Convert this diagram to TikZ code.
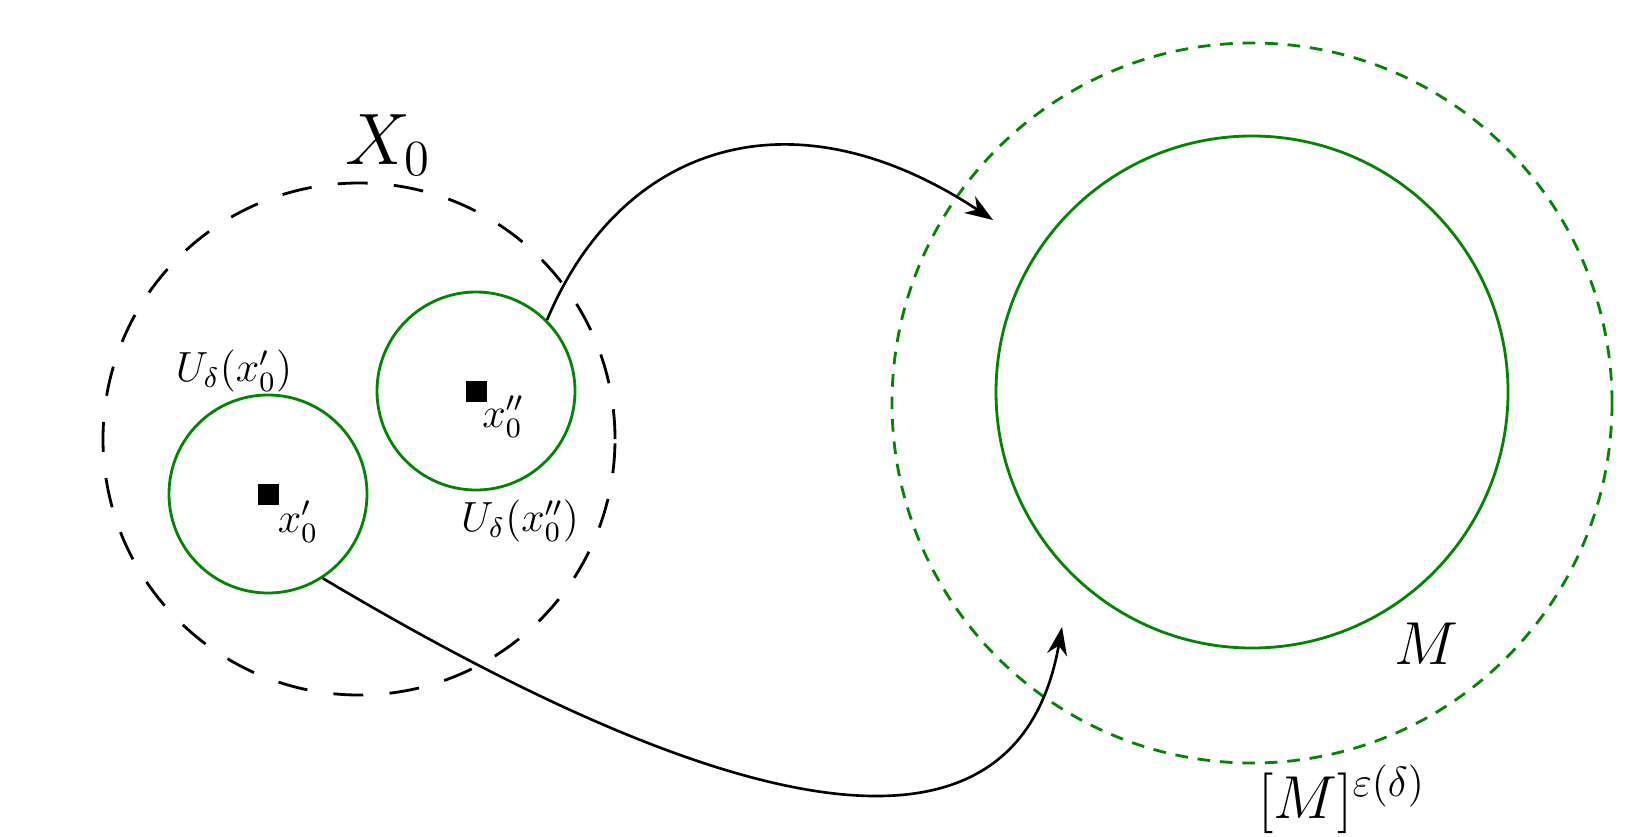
\documentclass[tikz,border=0pt]{standalone}
\usepackage{amsmath,amssymb}
\usetikzlibrary{positioning, arrows.meta, shapes.geometric}
\definecolor{nbhdgreen}{RGB}{0,135,0}
\tikzset{
  setcirc/.style   = {draw, circle, inner sep=0pt, line width=0.8pt,
                      dash pattern=on 8.5pt off 7.5pt},
  nbhd/.style      = {draw=nbhdgreen, circle, inner sep=0pt, line width=0.8pt},
  nbhdouter/.style = {nbhd, dash pattern=on 3.6pt off 2.8pt},
  ptmark/.style    = {fill=black, inner sep=0pt, minimum size=2.1mm},
  maparrow/.style  = {line width=0.75pt,
                      -{Stealth[length=2.8mm,width=2mm,inset=0.9mm]}},
  setlbl/.style    = {font=\large, inner sep=1pt}
}

\begin{document}
\begin{tikzpicture}
  \useasboundingbox (0,0) rectangle (16.52,8.36);

  % the set X_0 with two neighbourhoods
  \node[setcirc, minimum size=51.2mm] (xset) at (3.59,3.97) {};
  \node[nbhd, minimum size=19.8mm]    (ua)   at (2.68,3.42) {};
  \node[nbhd, minimum size=19.8mm]    (ub)   at (4.76,4.45) {};
  \node[ptmark] (pa) at (ua.center) {};
  \node[ptmark] (pb) at (ub.center) {};

  \node[setlbl] (lpa) at ([xshift=3mm, yshift=-2.8mm]pa) {$x_0'$};
  \node[setlbl] (lpb) at ([xshift=2.7mm, yshift=-2.6mm]pb) {$x_0''$};
  \node[setlbl] (lua) at (2.34,4.65) {$U_\delta(x_0')$};
  \node[setlbl] (lub) at (5.20,3.15) {$U_\delta(x_0'')$};
  \node[font=\huge] (lx) at (3.88,6.91) {$X_0$};

  % M and its neighbourhood
  \node[nbhdouter, minimum size=72mm] (mnbhd) at (12.52,4.33) {};
  \node[nbhd, minimum size=51.2mm]    (mset)  at (12.52,4.44) {};
  \node[font=\LARGE] (lm) at (14.26,1.92) {$M$};
  \node[font=\LARGE, anchor=south, inner sep=0pt] (lmn) at (13.42,0.02)
        {$[M]^{\varepsilon(\delta)}$};

  \coordinate (topend) at (9.93,6.16);
  \coordinate (lowend) at (10.62,2.09);
  \draw[maparrow] (ub.45)  .. controls (6.2,6.9) and (7.9,7.5) .. (topend);
  \draw[maparrow] (ua.-57) .. controls (6.9,0.39) and (10.13,-0.67) .. (lowend);
\end{tikzpicture}
\end{document}
